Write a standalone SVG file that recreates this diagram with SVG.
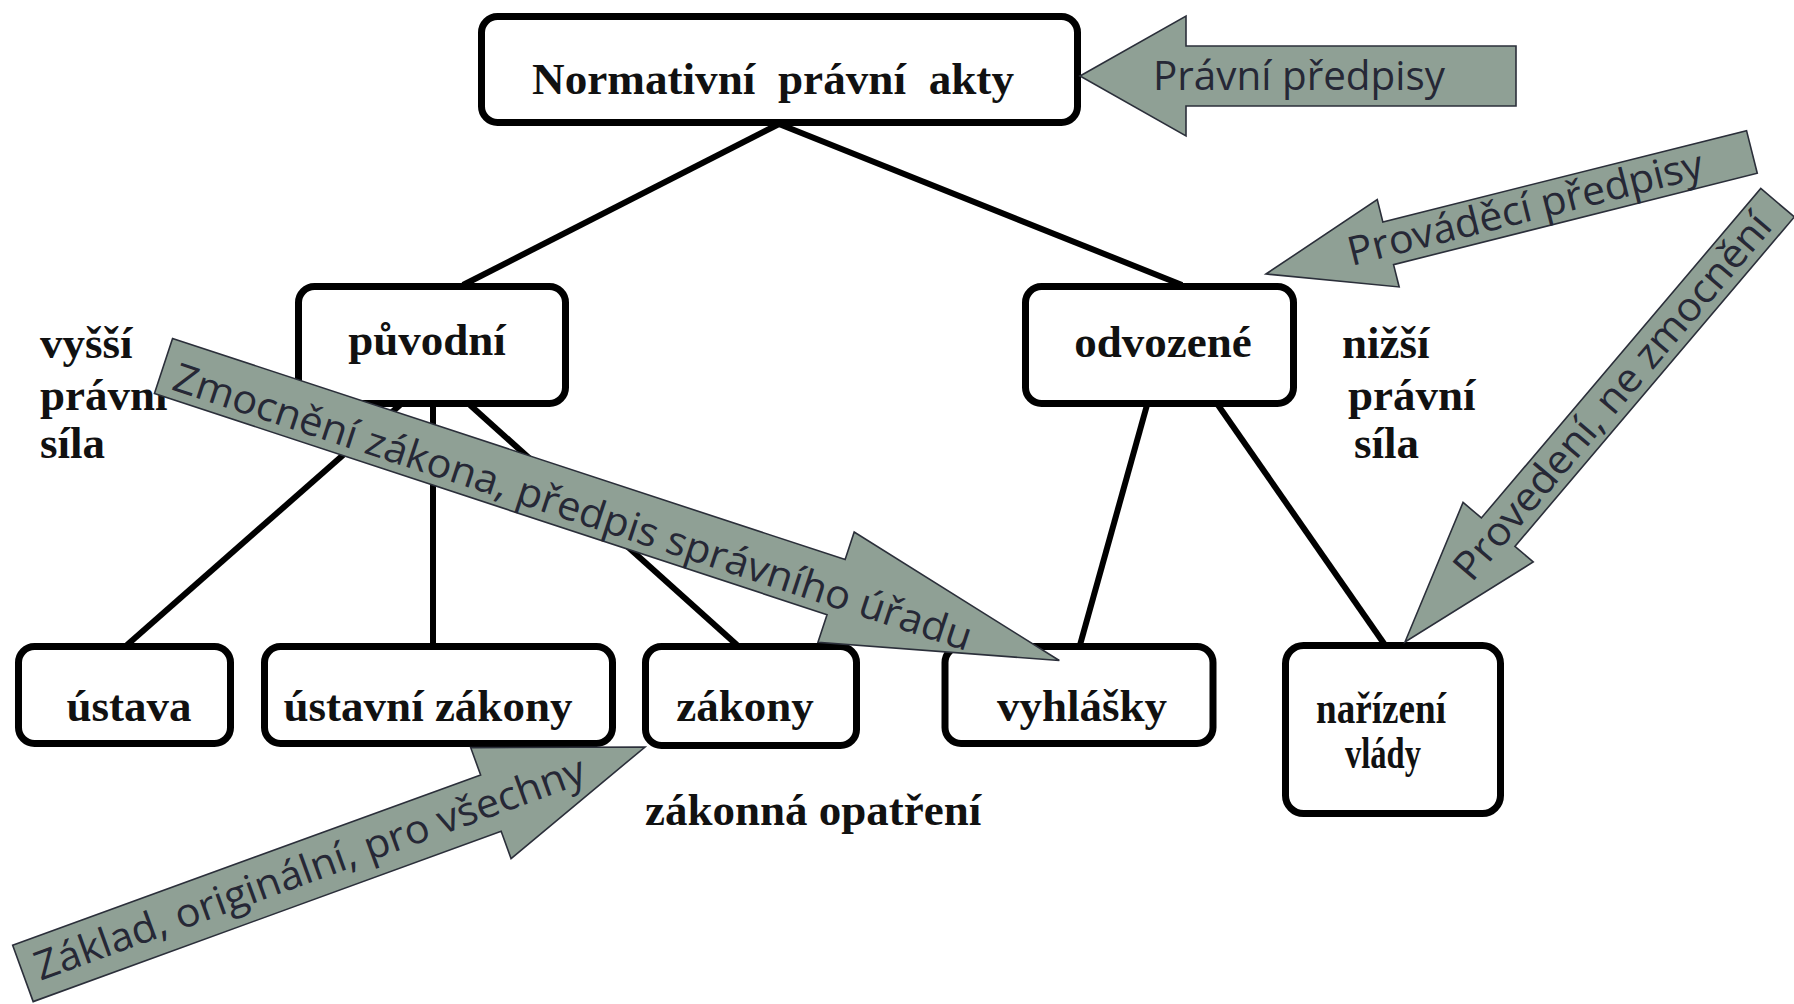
<svg xmlns="http://www.w3.org/2000/svg" width="1794" height="1004" viewBox="0 0 1794 1004">
<style>
.box{fill:#fff;stroke:#000;stroke-width:7}
.ser{font-family:"Liberation Serif","Times New Roman",serif;font-weight:bold;font-size:45px;fill:#111}
.mid{text-anchor:middle}
.arr{fill:#8fa095;stroke:#2b2f3a;stroke-width:1.6;stroke-linejoin:miter}
.lab{font-family:"Open Sans","Noto Sans",sans-serif;font-size:40px;fill:#262836}
.con line{stroke:#000;stroke-width:6}
</style>
<rect width="1794" height="1004" fill="#fff"/>
<g id="connectors" class="con">
  <line x1="779" y1="124" x2="463" y2="285"/>
  <line x1="779" y1="124" x2="1182" y2="285"/>
  <line x1="400" y1="405" x2="127" y2="645"/>
  <line x1="433" y1="405" x2="433" y2="645"/>
  <line x1="470" y1="405" x2="737" y2="645"/>
  <line x1="1147" y1="405" x2="1080" y2="645"/>
  <line x1="1218" y1="405" x2="1385" y2="645"/>
</g>
<g id="node-normativni">
  <rect class="box" x="481.5" y="16.5" width="596" height="106" rx="16"/>
  <text class="ser mid" x="773" y="94" xml:space="preserve" textLength="482" lengthAdjust="spacingAndGlyphs">Normativní  právní  akty</text>
</g>
<g id="node-puvodni">
  <rect class="box" x="298.5" y="286.5" width="267" height="117" rx="16"/>
  <text class="ser mid" x="427" y="355">původní</text>
</g>
<g id="node-odvozene">
  <rect class="box" x="1025.5" y="286.5" width="268" height="117" rx="16"/>
  <text class="ser mid" x="1163" y="357">odvozené</text>
</g>
<g id="node-ustava">
  <rect class="box" x="18.5" y="646.5" width="212" height="97" rx="16"/>
  <text class="ser mid" x="129" y="721">ústava</text>
</g>
<g id="node-ustavni-zakony">
  <rect class="box" x="264.5" y="646.5" width="348" height="97" rx="16"/>
  <text class="ser mid" x="428" y="721">ústavní zákony</text>
</g>
<g id="node-zakony">
  <rect class="box" x="645.5" y="646.5" width="211" height="99" rx="16"/>
  <text class="ser mid" x="745" y="721">zákony</text>
</g>
<g id="node-vyhlasky">
  <rect class="box" x="945" y="646.5" width="268" height="97" rx="16"/>
  <text class="ser mid" x="1082" y="721">vyhlášky</text>
</g>
<g id="node-narizeni">
  <rect class="box" x="1285.5" y="645.5" width="215" height="168" rx="18"/>
  <text class="ser mid"><tspan x="1381" y="723" textLength="130" lengthAdjust="spacingAndGlyphs">nařízení</tspan><tspan x="1383" y="768" textLength="76" lengthAdjust="spacingAndGlyphs">vlády</tspan></text>
</g>
<g id="label-vyssi">
  <text class="ser"><tspan x="40" y="358">vyšší</tspan><tspan x="40" y="410">právní</tspan><tspan x="40" y="458">síla</tspan></text>
</g>
<g id="label-nizsi">
  <text class="ser"><tspan x="1342" y="358">nižší</tspan><tspan x="1348" y="410">právní</tspan><tspan x="1354" y="458">síla</tspan></text>
</g>
<g id="label-zakonna-opatreni">
  <text class="ser" x="645" y="825">zákonná opatření</text>
</g>
<g id="arrow-pravni-predpisy" transform="translate(1080,76)">
  <polygon class="arr" points="0,0 106,-60 106,-30 436,-30 436,30 106,30 106,60"/>
  <text class="lab" x="73" y="14" textLength="292" lengthAdjust="spacingAndGlyphs">Právní předpisy</text>
</g>
<g id="arrow-provadeci" transform="translate(1266,274) rotate(-14.1)">
  <polygon class="arr" points="0,0 126,-45 126,-22 501,-22 501,22 126,22 126,45"/>
  <text class="lab" x="85" y="13" textLength="365" lengthAdjust="spacingAndGlyphs">Prováděcí předpisy</text>
</g>
<g id="arrow-provedeni" transform="translate(1405,642) rotate(-49.7)">
  <polygon class="arr" points="0,0 144,-46 144,-22 576,-22 576,22 144,22 144,46"/>
  <text class="lab" x="88" y="13" textLength="467" lengthAdjust="spacingAndGlyphs">Provedení, ne zmocnění</text>
</g>
<g id="arrow-zmocneni" transform="translate(163.5,366) rotate(18.2)">
  <polygon class="arr" points="0,-29 708,-29 708,-58 943,0 708,58 708,29 0,29"/>
  <text class="lab" x="14" y="20" textLength="838" lengthAdjust="spacingAndGlyphs">Zmocnění zákona, předpis správního úřadu</text>
</g>
<g id="arrow-zaklad" transform="translate(645,747) rotate(-20)">
  <polygon class="arr" points="0,0 -164,-59 -164,-30 -662,-30 -662,30 -164,30 -164,59"/>
  <text class="lab" x="-648" y="13" textLength="583" lengthAdjust="spacingAndGlyphs">Základ, originální, pro všechny</text>
</g>
</svg>
